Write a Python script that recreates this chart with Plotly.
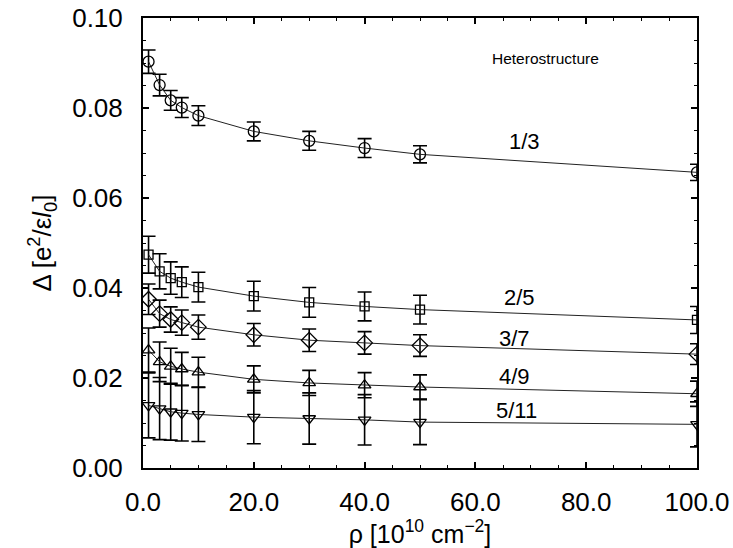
import plotly.graph_objects as go

rho = [1, 3, 5, 7, 10, 20, 30, 40, 50, 100]

gap_1_3 = [0.0903, 0.0851, 0.0817, 0.0801, 0.0783, 0.0748, 0.0727, 0.0711, 0.0697, 0.0657]
err_1_3 = [0.0026, 0.0024, 0.0022, 0.0022, 0.0022, 0.0021, 0.0021, 0.0021, 0.0019, 0.0018]

gap_2_5 = [0.0474, 0.0437, 0.0422, 0.0413, 0.0402, 0.0382, 0.0368, 0.0359, 0.0352, 0.0329]
err_2_5 = [0.0041, 0.0039, 0.0036, 0.0034, 0.0033, 0.0033, 0.0033, 0.0032, 0.0032, 0.0030]

gap_3_7 = [0.0375, 0.0343, 0.0330, 0.0323, 0.0313, 0.0296, 0.0284, 0.0278, 0.0272, 0.0253]
err_3_7 = [0.0034, 0.0030, 0.0028, 0.0028, 0.0027, 0.0025, 0.0025, 0.0025, 0.0024, 0.0023]

gap_4_9 = [0.0262, 0.0236, 0.0226, 0.0220, 0.0213, 0.0197, 0.0189, 0.0184, 0.0180, 0.0165]
err_4_9 = [0.0049, 0.0044, 0.0040, 0.0037, 0.0033, 0.0030, 0.0028, 0.0028, 0.0027, 0.0028]

gap_5_11 = [0.0139, 0.0132, 0.0125, 0.0122, 0.0119, 0.0113, 0.0110, 0.0107, 0.0102, 0.0097]
err_5_11 = [0.0072, 0.0069, 0.0063, 0.0062, 0.0060, 0.0059, 0.0057, 0.0056, 0.0050, 0.0050]

series = [
    ("1/3", gap_1_3, err_1_3, "circle-open", 11),
    ("2/5", gap_2_5, err_2_5, "square-open", 9),
    ("3/7", gap_3_7, err_3_7, "diamond-open", 12),
    ("4/9", gap_4_9, err_4_9, "triangle-up-open", 11),
    ("5/11", gap_5_11, err_5_11, "triangle-down-open", 11),
]

label_pos = {"1/3": (68.9, 0.0725), "2/5": (67.9, 0.0378), "3/7": (67.1, 0.0288),
             "4/9": (67.1, 0.0204), "5/11": (67.5, 0.0128)}

fig = go.Figure()
for name, y, e, sym, sz in series:
    fig.add_trace(go.Scatter(
        x=rho, y=y, mode="lines+markers", name=name,
        line=dict(color="#222", width=1),
        marker=dict(symbol=sym, size=sz, color="black", line=dict(width=1.3, color="black")),
        error_y=dict(type="data", array=e, visible=True, color="black", thickness=1.6, width=7),
        showlegend=False,
    ))

font_family = "Liberation Sans, Arial, sans-serif"
for name, (lx, ly) in label_pos.items():
    fig.add_annotation(x=lx, y=ly, xref="x", yref="y", text=name, showarrow=False,
                       font=dict(size=22, color="black", family=font_family))
fig.add_annotation(x=72.7, y=0.0910, xref="x", yref="y", text="Heterostructure", showarrow=False,
                   font=dict(size=15.5, color="black", family=font_family))

axis_common = dict(
    showline=True, linecolor="black", linewidth=2, mirror="ticks",
    ticks="inside", ticklen=6, tickwidth=1.5, tickcolor="black",
    showgrid=False, zeroline=False, automargin=False,
    tickfont=dict(size=26, color="black", family=font_family),
)

fig.update_xaxes(
    range=[0, 100], tick0=0, dtick=20, tickformat=".1f",
    minor=dict(dtick=5, ticks="inside", ticklen=3, tickcolor="black", tickwidth=1),
    title=dict(text="ρ [10<sup>10</sup> cm<sup>−2</sup>]", font=dict(size=25, color="black", family=font_family), standoff=0),
    ticklabelstandoff=10,
    **axis_common,
)
fig.update_yaxes(
    range=[0, 0.10], tick0=0, dtick=0.02, tickformat=".2f",
    minor=dict(dtick=0.005, ticks="inside", ticklen=3, tickcolor="black", tickwidth=1),
    title=dict(text="Δ [e<sup>2</sup>/ε<i>l</i><sub>0</sub>]", font=dict(size=26, color="black", family=font_family), standoff=13),
    ticklabelstandoff=13,
    **axis_common,
)

fig.update_layout(
    width=733, height=548,
    margin=dict(l=143, r=36, t=18, b=80),
    paper_bgcolor="white", plot_bgcolor="white",
)

fig.write_html("out.html", config={"displayModeBar": False},
               post_script="document.body.style.margin='0';document.body.style.overflow='hidden';")
